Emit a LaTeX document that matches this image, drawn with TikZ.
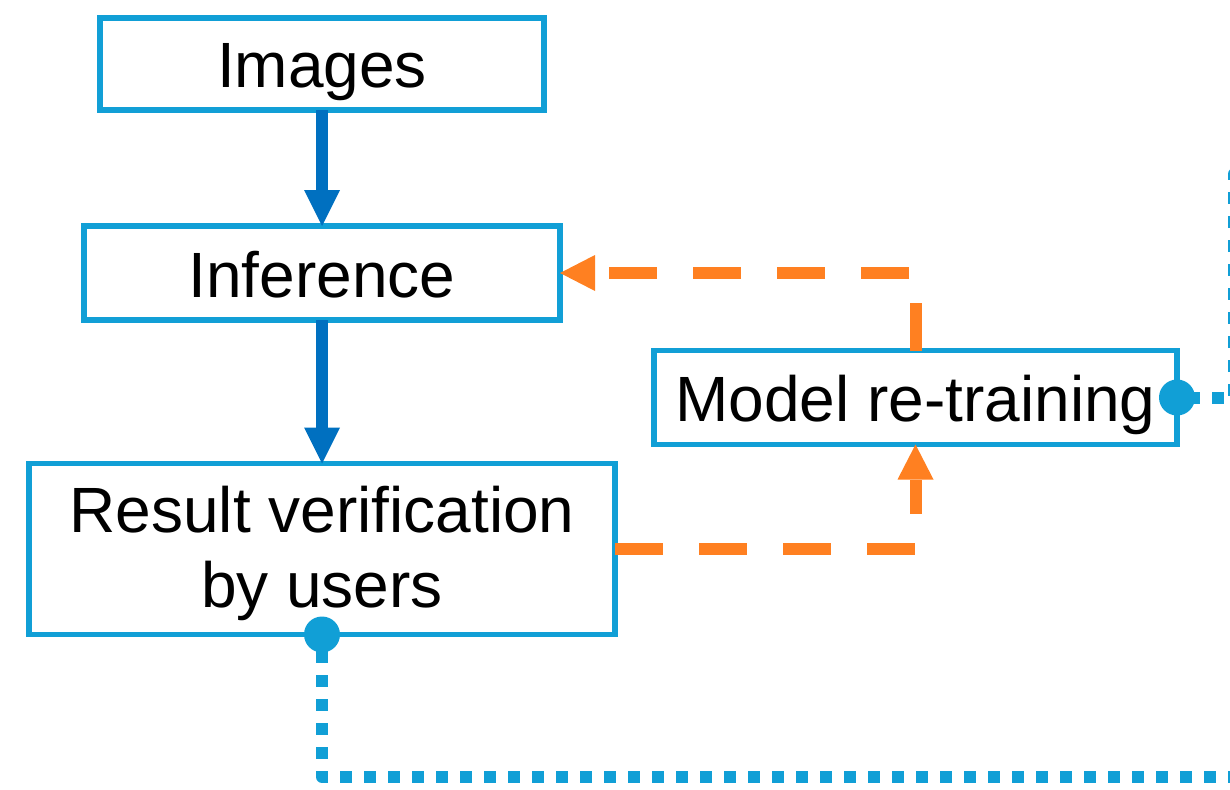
\documentclass[tikz,border=0pt]{standalone}
\usepackage{fontspec}
\setmainfont{Liberation Sans}
\usetikzlibrary{arrows.meta}
\definecolor{boxblue}{HTML}{119FD6}
\definecolor{flowblue}{HTML}{0070C0}
\definecolor{loopcol}{HTML}{FF8021}

\begin{document}
\begin{tikzpicture}[x=1pt, y=-1pt,
  stage/.style={draw=boxblue, line width=5.5pt, rectangle, inner sep=0pt, outer sep=0pt,
    font=\fontsize{64}{75}\selectfont, align=center},
  oneline/.style={text height=60pt, text depth=12pt},
  flow/.style={draw=flowblue, line width=12pt,
    -{Triangle[width=36pt,length=36pt,line width=0pt]}},
  feedback/.style={draw=loopcol, line width=12pt, dash pattern=on 48pt off 36pt,
    -{Triangle[width=36pt,length=35pt,line width=0pt]}},
  link/.style={draw=boxblue, line width=12pt, dash pattern=on 12pt off 12pt,
    line join=round},
  joint/.style={fill=boxblue}]

\useasboundingbox (0,0) rectangle (1230,789);
\clip (0,0) rectangle (1230,789);

% processing stages
\node[stage, oneline, minimum width=444pt, minimum height=92pt]  (img)   at (322,64)    {Images};
\node[stage, oneline, minimum width=476pt, minimum height=94pt]  (inf)   at (322,273)   {Inference};
\node[stage, oneline, minimum width=523pt, minimum height=94pt]  (model) at (915.5,397.5) {Model re-training};
\node[stage, minimum width=586pt, minimum height=171pt]          (res)   at (322,549)
  {\rule{0pt}{56pt}Result verification\\by users};

% main flow
\draw[flow] (img.south) -- (inf.north);
\draw[flow] (inf.south) -- (res.north);

% feedback loop
\draw[feedback] (res.east) -| (model.south);
\draw[feedback] (model.north) |- (inf.east);

% outgoing links
\coordinate (offB)  at (1250,777);
\coordinate (turnA) at (1234,174);
\coordinate (offA)  at (1260,174);
\draw[link, dash phase=7.5pt] (res.south) |- (offB);
\draw[link, dash phase=13pt] (model.east) -| (turnA) -- (offA);

% connection points
\fill[joint] (res.south) circle (18pt);
\fill[joint] (model.east) circle (18pt);
\end{tikzpicture}
\end{document}
